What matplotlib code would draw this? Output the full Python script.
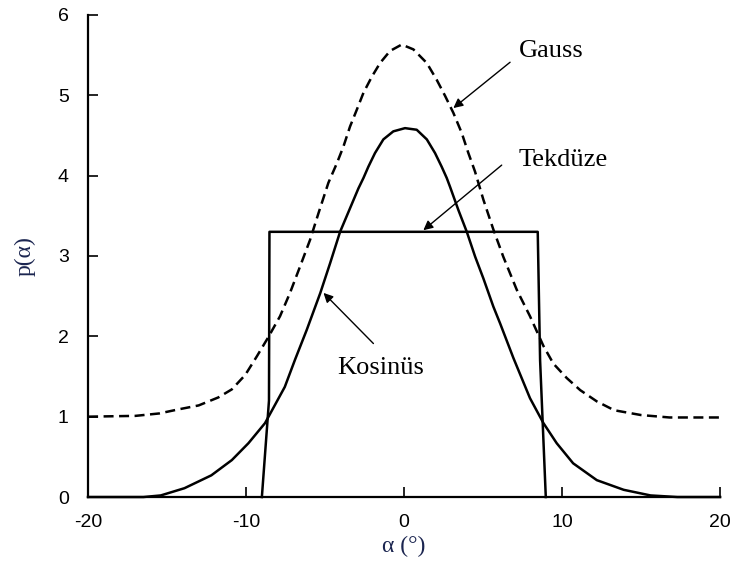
import matplotlib.pyplot as plt

plt.rcParams['axes.unicode_minus'] = False

# values
gauss_x = [-20, -17, -15.5, -14.3, -13, -11.75, -10.9, -10.05, -9.32, -8.59, -7.85,
           -7.22, -6.58, -5.95, -5.42, -4.79, -4.26, -3.84, -3.42, -2.99, -2.57, -2.04,
           -1.52, -0.89, -0.15, 0.59, 1.44, 2.07, 2.6, 3.12, 3.65, 4.07, 4.49, 5.02,
           5.65, 6.28, 7.13, 7.97, 8.82, 9.45, 10.3, 11.15, 12.2, 13.3, 15.0, 16.8, 20]
gauss_y = [1.0, 1.01, 1.04, 1.09, 1.14, 1.24, 1.34, 1.52, 1.75, 1.99, 2.25,
           2.54, 2.87, 3.20, 3.53, 3.91, 4.15, 4.36, 4.61, 4.82, 5.03, 5.23,
           5.40, 5.55, 5.63, 5.57, 5.40, 5.19, 4.99, 4.78, 4.53, 4.28, 4.05, 3.70,
           3.33, 2.99, 2.58, 2.25, 1.88, 1.66, 1.48, 1.33, 1.19, 1.08, 1.02, 0.99, 0.99]

cos_x = [-20, -17.5, -16.5, -15.4, -13.9, -12.2, -10.9, -9.85, -8.8, -7.55, -6.9,
         -6.16, -5.3, -4.68, -4.05, -2.89, -2.57, -2.26, -1.84, -1.31, -0.68, 0.06,
         0.8, 1.44, 1.96, 2.38, 2.7, 2.91, 3.44, 3.97, 4.5, 5.02, 5.65, 6.08, 6.92,
         7.97, 8.82, 9.66, 10.7, 12.2, 13.9, 15.6, 17.3, 20]
cos_y = [0, 0, 0.0, 0.02, 0.11, 0.27, 0.46, 0.67, 0.92, 1.37, 1.71,
         2.08, 2.54, 2.91, 3.30, 3.84, 3.97, 4.11, 4.28, 4.45, 4.55, 4.59,
         4.57, 4.45, 4.28, 4.11, 3.97, 3.86, 3.57, 3.30, 2.99, 2.72, 2.37, 2.16, 1.73,
         1.23, 0.92, 0.67, 0.42, 0.21, 0.09, 0.02, 0.0, 0]

uni_x = [-9.0, -8.55, -8.52, 8.46, 8.61, 8.97]
uni_y = [0, 1.2, 3.3, 3.3, 1.7, 0]

xticks = [-20, -10, 0, 10, 20]
yticks = [0, 1, 2, 3, 4, 5, 6]

fig = plt.figure(figsize=(7.34, 5.70), dpi=100)
ax = fig.add_axes([0.12, 0.128, 0.861, 0.846])

line_kw = dict(color='black', lw=1.8, clip_on=False,
               solid_joinstyle='round', dash_joinstyle='round')
ax.plot(gauss_x, gauss_y, linestyle=(0, (4, 2.2)), **line_kw)
ax.plot(cos_x, cos_y, **line_kw)
ax.plot(uni_x, uni_y, **line_kw)

ax.set_xlim(-20, 20)
ax.set_ylim(0, 6)
ax.set_xticks(xticks)
ax.set_yticks(yticks)

ax.spines['top'].set_visible(False)
ax.spines['right'].set_visible(False)
ax.spines['left'].set_linewidth(1.6)
ax.spines['bottom'].set_linewidth(1.6)
ax.tick_params(direction='in', length=7, width=1.2, labelsize=14)
ax.tick_params(axis='x', pad=12)
ax.tick_params(axis='y', pad=14)
for lab in ax.get_xticklabels() + ax.get_yticklabels():
    lab.set_fontfamily('Liberation Sans')

serif = 'Liberation Serif'
ax.set_ylabel('p(α)', fontsize=17, family=serif, color='#1b2550', labelpad=16)
ax.set_xlabel('α (°)', fontsize=17, family=serif, color='#1b2550', labelpad=4)

arrow = dict(arrowstyle='-|>', color='black', lw=1.0, mutation_scale=14, shrinkA=0, shrinkB=0)
ax.annotate('', xy=(3.12, 4.84), xytext=(6.71, 5.41), arrowprops=arrow)
ax.annotate('', xy=(1.22, 3.32), xytext=(6.18, 4.13), arrowprops=arrow)
ax.annotate('', xy=(-5.1, 2.54), xytext=(-1.94, 1.91), arrowprops=arrow)

ax.text(9.3, 5.55, 'Gauss', fontsize=19, family=serif, ha='center', va='center')
ax.text(10.1, 4.19, 'Tekdüze', fontsize=19, family=serif, ha='center', va='center')
ax.text(-1.5, 1.6, 'Kosinüs', fontsize=19, family=serif, ha='center', va='center')

fig.savefig('out.png', dpi=100)
